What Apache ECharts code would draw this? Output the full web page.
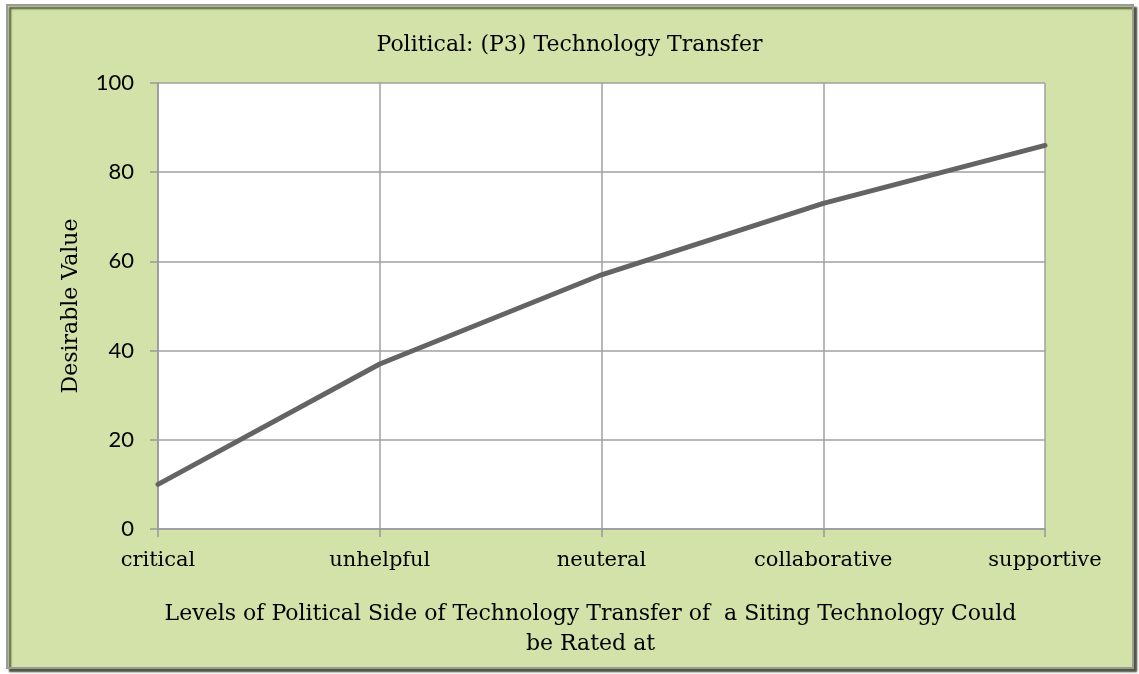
<!DOCTYPE html>
<html><head><meta charset="utf-8">
<script src="https://cdn.jsdelivr.net/npm/echarts@6/dist/echarts.min.js"></script>
<style>html,body{margin:0;padding:0;background:#fff}#c{width:1139px;height:674px}</style>
</head><body><div id="c"></div>
<script>
const categories = ['critical', 'unhelpful', 'neuteral', 'collaborative', 'supportive'];
const values = [10, 37, 57, 73, 86];
const titleText = 'Political: (P3) Technology Transfer';
const xName = 'Levels of Political Side of Technology Transfer of  a Siting Technology Could\nbe Rated at';
const yName = 'Desirable Value';

const serif = 'DejaVu Serif';
const chart = echarts.init(document.getElementById('c'), null, {renderer: 'canvas'});
chart.setOption({
  animation: false,
  backgroundColor: 'transparent',
  graphic: [{
    type: 'rect', z: -10,
    shape: {x: 7, y: 5, width: 1126, height: 663},
    style: {fill: '#d3e2a9', stroke: '#9a9a9a', lineWidth: 2,
      shadowBlur: 2, shadowOffsetX: 3, shadowOffsetY: 3, shadowColor: 'rgba(55,65,40,0.9)'}
  }],
  title: {
    text: titleText, left: 'center', top: 29,
    textStyle: {fontFamily: serif, fontSize: 22, fontWeight: 'normal', color: '#000'}
  },
  grid: {left: 158, right: 94, top: 83, bottom: 145, show: true, backgroundColor: '#fff', borderWidth: 0},
  xAxis: {
    type: 'category', data: categories, boundaryGap: false,
    name: xName, nameLocation: 'middle', nameGap: 70,
    nameTextStyle: {fontFamily: serif, fontSize: 22, color: '#000', lineHeight: 30, padding: [0, 22, 0, 0]},
    axisLine: {show: true, lineStyle: {color: '#999', width: 1.5}},
    axisTick: {show: true, inside: false, length: 8, lineStyle: {color: '#999', width: 1.5}},
    axisLabel: {fontFamily: serif, fontSize: 21, color: '#000', margin: 21},
    splitLine: {show: true, lineStyle: {color: '#a0a0a0', width: 1.5}}
  },
  yAxis: {
    type: 'value', min: 0, max: 100, interval: 20,
    name: yName, nameLocation: 'middle', nameGap: 76,
    nameTextStyle: {fontFamily: serif, fontSize: 22, color: '#000'},
    axisLine: {show: true, lineStyle: {color: '#999', width: 1.5}},
    axisTick: {show: true, length: 8, lineStyle: {color: '#999', width: 1.5}},
    axisLabel: {fontFamily: 'Lato', fontSize: 22, color: '#000', margin: 24},
    splitLine: {show: true, lineStyle: {color: '#a0a0a0', width: 1.5}}
  },
  series: [{
    type: 'line', data: values, showSymbol: false, symbol: 'none',
    lineStyle: {color: '#646464', width: 5, cap: 'round'}
  }]
});
</script></body></html>
